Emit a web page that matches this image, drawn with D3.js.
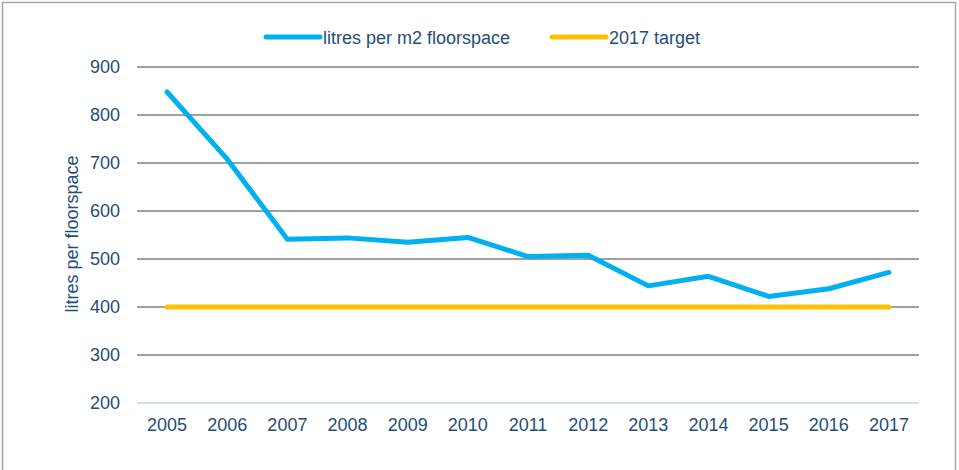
<!DOCTYPE html>
<html><head><meta charset="utf-8">
<script src="https://cdn.jsdelivr.net/npm/d3@7"></script>
<style>body{margin:0;background:#fff}svg{display:block;font-family:"Liberation Sans",Arial,sans-serif}</style>
</head><body><svg id="c" width="959" height="470"></svg>
<script>
const years = ["2005","2006","2007","2008","2009","2010","2011","2012","2013","2014","2015","2016","2017"];
const litres = [848,708,541,544,535,545,505,508,444,464,422,438,472];
const target = [400,400,400,400,400,400,400,400,400,400,400,400,400];
const yTicks = [200,300,400,500,600,700,800,900];
const seriesNames = ["litres per m2 floorspace","2017 target"];

const svg = d3.select("#c");
const textCol = "#1F4E79";
const fs = "18px";
svg.append("rect").attr("x",2.5).attr("y",2.5).attr("width",953).attr("height",480)
  .attr("fill","#fff").attr("stroke","#A6A6A6").attr("stroke-width",1.5);

const x = d3.scaleBand().domain(years).range([137,919]);
const y = d3.scaleLinear().domain([200,900]).range([403,67]);

// gridlines
svg.append("g").selectAll("line").data(yTicks.filter(t=>t>200)).join("line")
  .attr("x1",137).attr("x2",919).attr("y1",d=>y(d)).attr("y2",d=>y(d))
  .attr("stroke","#808080").attr("stroke-width",1.5);
// bottom axis line
svg.append("line").attr("x1",137).attr("x2",919).attr("y1",y(200)).attr("y2",y(200))
  .attr("stroke","#BDD7EE").attr("stroke-width",1.5);

// y axis labels
const ya = svg.append("g").attr("transform","translate(137,0)")
  .call(d3.axisLeft(y).tickValues(yTicks).tickSize(0).tickPadding(17).tickFormat(d3.format("d")));
ya.select(".domain").remove();
ya.selectAll("text").attr("fill",textCol).style("font-size",fs).style("font-family","Liberation Sans, Arial, sans-serif");

// x axis labels
const xa = svg.append("g").attr("transform","translate(0,403)")
  .call(d3.axisBottom(x).tickSize(0).tickPadding(15));
xa.select(".domain").remove();
xa.selectAll("text").attr("fill",textCol).style("font-size",fs).style("font-family","Liberation Sans, Arial, sans-serif");

// axis title
svg.append("text").attr("transform","translate(78,234) rotate(-90)")
  .attr("text-anchor","middle").attr("fill",textCol).style("font-size",fs)
  .text("litres per floorspace");

const cx = d => x(d) + x.bandwidth()/2;
const line = d3.line().x((d,i)=>cx(years[i])).y(d=>y(d));

svg.append("path").datum(target).attr("d",line).attr("fill","none")
  .attr("stroke","#FFC000").attr("stroke-width",5).attr("stroke-linecap","round");
svg.append("path").datum(litres).attr("d",line).attr("fill","none")
  .attr("stroke","#00B0F0").attr("stroke-width",5).attr("stroke-linecap","round").attr("stroke-linejoin","round");

// legend
const leg = [{n:seriesNames[0],c:"#00B0F0",x:266},{n:seriesNames[1],c:"#FFC000",x:552}];
const lg = svg.append("g").selectAll("g").data(leg).join("g").attr("transform",d=>`translate(${d.x},37)`);
lg.append("line").attr("x1",0).attr("x2",54).attr("stroke",d=>d.c).attr("stroke-width",5).attr("stroke-linecap","round");
lg.append("text").attr("x",57).attr("y",6.5).attr("fill",textCol).style("font-size",fs).text(d=>d.n);
</script></body></html>
